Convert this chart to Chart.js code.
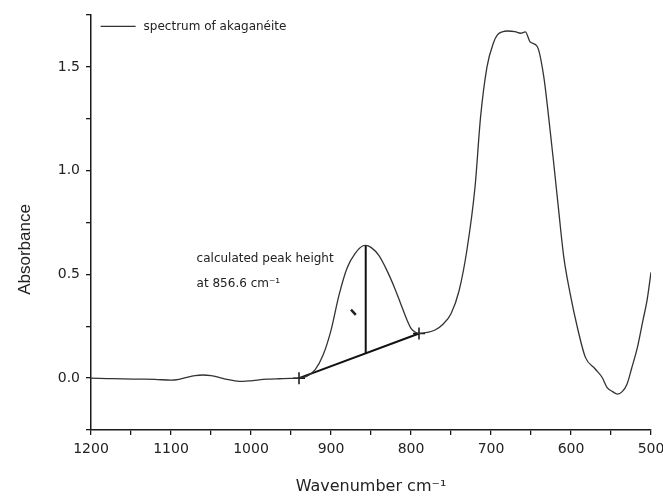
<!DOCTYPE html>
<html>
<head>
<meta charset="utf-8">
<script src="https://cdn.jsdelivr.net/npm/chart.js@4.4.0/dist/chart.umd.min.js"></script>
<style>
  html, body { margin: 0; padding: 0; background: #fff; }
  canvas { display: block; }
</style>
</head>
<body>
<canvas id="c" width="663" height="497"></canvas>
<script>
// ---- data ----
const wavenumbers = [1200,1180,1160,1140,1120,1100,1090,1080,1070,1060,1050,1040,1030,1020,1010,1000,990,980,970,960,950,940,
  930,920,910,900,890,880,870,860,856.6,850,840,830,820,813,805,800,795,790,780,770,760,750,740,730,720,713,705,697,692,685,680,
  670,663,657,651,642,634,628,622,616,609,601,592,582,570,561,555,548,542,536,530,524,517,510,505,500];
const absorbance = [0.000,-0.002,-0.004,-0.005,-0.006,-0.010,-0.006,0.004,0.012,0.015,0.012,0.004,-0.006,-0.013,-0.016,-0.013,-0.008,-0.005,-0.004,-0.002,-0.001,0.000,
  0.010,0.040,0.110,0.230,0.400,0.530,0.600,0.638,0.640,0.630,0.590,0.518,0.430,0.360,0.280,0.240,0.222,0.215,0.220,0.232,0.260,0.310,0.420,0.620,0.920,1.260,1.500,1.615,1.654,1.670,1.673,
  1.670,1.662,1.669,1.620,1.597,1.452,1.260,1.050,0.830,0.583,0.406,0.244,0.100,0.045,0.003,-0.045,-0.065,-0.077,-0.065,-0.029,0.050,0.148,0.280,0.373,0.510];

const baselineWn = [940, 790];
const baselineA = [0.000, 0.215];
const peakWn = 856.6;
const peakA = 0.640;
const markWn = [875, 869];       // small arrow mark inside the peak
const markA = [0.330, 0.305];

const xTickValues = [1200,1150,1100,1050,1000,950,900,850,800,750,700,650,600,550,500];
const yTickValues = [-0.25,0,0.25,0.5,0.75,1.0,1.25,1.5,1.75];

const seriesLabel = 'spectrum of akaganéite';
const annotationLines = ['calculated peak height', 'at 856.6 cm\u207B\u00B9'];
const annotationAnchor = { wn: 1068, a: 0.575 }; // text anchor in data units
const legendAnchor = { wn: 1188, a: 1.695 };       // legend anchor in data units
const yTitleAt = 0.62;                             // y title centre, data units
const xTitle = 'Wavenumber cm\u207B\u00B9';
const yTitle = 'Absorbance';

// ---- derived ----
const spectrum = wavenumbers.map((w, i) => ({ x: w, y: absorbance[i] }));
const baseline = baselineWn.map((w, i) => ({ x: w, y: baselineA[i] }));
const baseAtPeak = baselineA[0] + (baselineA[1] - baselineA[0]) * (peakWn - baselineWn[0]) / (baselineWn[1] - baselineWn[0]);
const peakLine = [{ x: peakWn, y: baseAtPeak }, { x: peakWn, y: peakA }];
const mark = markWn.map((w, i) => ({ x: w, y: markA[i] }));

const FONT = "'DejaVu Sans', 'Liberation Sans', Arial, sans-serif";
const INK = '#1a1a1a';

const bgPlugin = {
  id: 'bg',
  beforeDraw(chart) {
    const ctx = chart.ctx;
    ctx.save();
    ctx.fillStyle = '#fff';
    ctx.fillRect(0, 0, chart.width, chart.height);
    ctx.restore();
  }
};

const textPlugin = {
  id: 'texts',
  afterDatasetsDraw(chart) {
    const ctx = chart.ctx;
    const xs = chart.scales.x, ys = chart.scales.y;
    ctx.save();
    let px = xs.getPixelForValue(annotationAnchor.wn);
    let py = ys.getPixelForValue(annotationAnchor.a);
    ctx.fillStyle = '#222';
    ctx.font = '12px ' + FONT;
    ctx.textBaseline = 'middle';
    ctx.textAlign = 'left';
    annotationLines.forEach((t, i) => ctx.fillText(t, px, py + i * 25));
    const ds = chart.data.datasets[0];
    px = xs.getPixelForValue(legendAnchor.wn);
    py = ys.getPixelForValue(legendAnchor.a);
    ctx.strokeStyle = ds.borderColor;
    ctx.lineWidth = 1.3;
    ctx.beginPath();
    ctx.moveTo(px, py);
    ctx.lineTo(px + 35, py);
    ctx.stroke();
    ctx.fillText(ds.label, px + 43, py);
    const ty = ys.getPixelForValue(yTitleAt);
    ctx.translate(25, ty);
    ctx.rotate(-Math.PI / 2);
    ctx.textAlign = 'center';
    ctx.font = "17px 'Liberation Sans', Arial, sans-serif";
    ctx.fillText(yTitle, 0, 0);
    ctx.restore();
  }
};

new Chart(document.getElementById('c'), {
  type: 'line',
  data: {
    datasets: [
      { label: seriesLabel, data: spectrum, borderColor: '#333', borderWidth: 1.3, pointRadius: 0,
        tension: 0.4, cubicInterpolationMode: 'monotone', fill: false },
      { label: 'baseline', data: baseline, borderColor: '#111', borderWidth: 2, pointStyle: 'cross',
        pointRadius: 6, pointBorderWidth: 1.5, pointBorderColor: '#111', fill: false },
      { label: 'peak height', data: peakLine, borderColor: '#111', borderWidth: 2, pointRadius: 0, fill: false },
      { label: 'mark', data: mark, borderColor: '#222', borderWidth: 2.5, pointRadius: 0, fill: false }
    ]
  },
  options: {
    responsive: false,
    animation: false,
    layout: { padding: { top: 15, right: 12, left: 0, bottom: 0 } },
    plugins: {
      legend: { display: false },
      tooltip: { enabled: false }
    },
    scales: {
      x: {
        type: 'linear',
        reverse: true,
        min: 500,
        max: 1200,
        afterBuildTicks: (s) => { s.ticks = xTickValues.map(v => ({ value: v })); },
        afterFit: (s) => { s.height = 67; s.paddingLeft = 0; s.paddingRight = 0; },
        ticks: {
          autoSkip: false, maxRotation: 0, padding: 6,
          color: '#222', font: { family: FONT, size: 14 },
          callback: (v) => (v % 100 === 0 ? String(v) : '')
        },
        grid: { drawOnChartArea: false, drawTicks: true, tickLength: 5, color: INK, lineWidth: 1.3 },
        border: { display: true, color: INK, width: 1.5 },
        title: { display: true, text: xTitle, color: '#222', font: { family: FONT, size: 16 }, padding: { top: 0, bottom: 1 } }
      },
      y: {
        type: 'linear',
        min: -0.25,
        max: 1.75,
        afterBuildTicks: (s) => { s.ticks = yTickValues.map(v => ({ value: v })); },
        afterFit: (s) => { s.width = 91; s.paddingTop = 0; s.paddingBottom = 0; },
        ticks: {
          autoSkip: false, padding: 6,
          color: '#222', font: { family: FONT, size: 14 },
          callback: (v) => (Math.abs(v * 2 - Math.round(v * 2)) < 1e-6 ? v.toFixed(1) : '')
        },
        grid: { drawOnChartArea: false, drawTicks: true, tickLength: 5, color: INK, lineWidth: 1.3 },
        border: { display: true, color: INK, width: 1.5 },
        title: { display: false }
      }
    }
  },
  plugins: [bgPlugin, textPlugin]
});
</script>
</body>
</html>
